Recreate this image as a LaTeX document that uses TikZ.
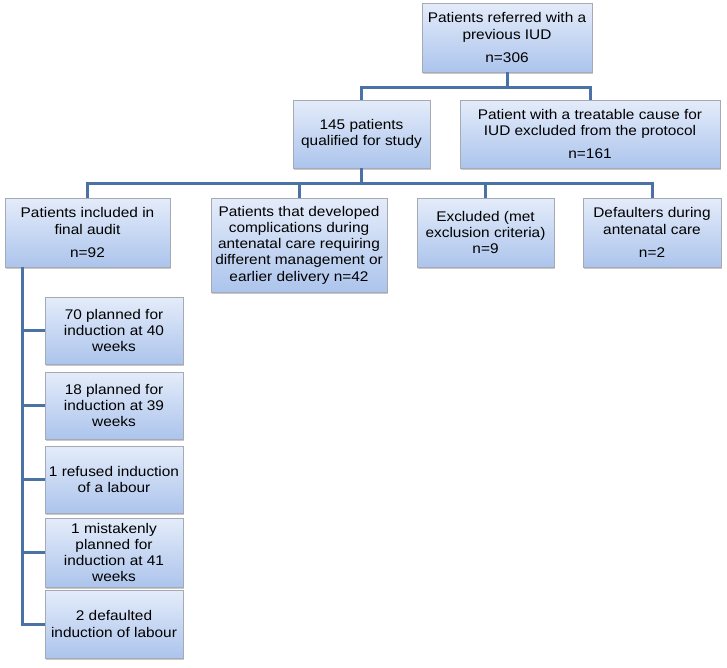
\documentclass[tikz,border=0pt]{standalone}
\usepackage{fontspec}
\setmainfont[FakeStretch=1.1]{Liberation Sans}
\usetikzlibrary{shadows}
\definecolor{linec}{RGB}{74,114,164}
\definecolor{boxtop}{RGB}{228,236,250}
\definecolor{boxbot}{RGB}{172,196,236}
\definecolor{boxedge}{RGB}{165,170,180}
\tikzset{
  box/.style={draw=boxedge, line width=0.8pt, top color=boxtop, bottom color=boxbot,
    drop shadow={shadow xshift=0.6pt, shadow yshift=-2pt, opacity=0.35, fill=black!60},
    align=center, inner sep=0pt, font=\fontsize{14}{16.3}\selectfont},
  conn/.style={draw=linec, line width=3pt}
}
\begin{document}
\begin{tikzpicture}[x=1pt,y=-1pt]
\useasboundingbox (0,0) rectangle (727,667);
\fill[white] (0,0) rectangle (727,667);
\node[box, minimum width=170, minimum height=69] (top) at (507,37.5) {Patients referred with a\\previous IUD\\[7pt]n=306};
\node[box, minimum width=137, minimum height=68] (q145) at (361.5,134) {145 patients\\qualified for study};
\node[box, minimum width=260, minimum height=68] (treat) at (590,134) {Patient with a treatable cause for\\IUD excluded from the protocol\\[7pt]n=161};
\node[box, minimum width=165, minimum height=69] (audit) at (87.5,232.5) {Patients included in\\final audit\\[7pt]n=92};
\node[box, minimum width=176, minimum height=94] (compl) at (299,245) {Patients that developed\\complications during\\antenatal care requiring\\different management or\\earlier delivery n=42};
\node[box, minimum width=137, minimum height=69] (excl) at (485.5,232.5) {Excluded (met\\exclusion criteria)\\n=9};
\node[box, minimum width=138, minimum height=69] (def) at (652,232.5) {Defaulters during\\antenatal care\\[7pt]n=2};
\node[box, minimum width=138, minimum height=67] (ca) at (114,330.5) {70 planned for\\induction at 40\\weeks};
\node[box, minimum width=138, minimum height=67] (cb) at (114,405.5) {18 planned for\\induction at 39\\weeks};
\node[box, minimum width=138, minimum height=67] (cc) at (114,479.5) {1 refused induction\\of a labour};
\node[box, minimum width=138, minimum height=69] (cd) at (114,552.5) {1 mistakenly\\planned for\\induction at 41\\weeks};
\node[box, minimum width=138, minimum height=68] (ce) at (114,624) {2 defaulted\\induction of labour};
\coordinate (j1) at (507,87);
\coordinate (j2) at (361.5,183);
\coordinate (sp) at (22,267);
\draw[conn] (top.south) -- (j1) -| (q145.north);
\draw[conn] (j1) -| (treat.north);
\draw[conn] (q145.south) -- (j2) -| (audit.north);
\draw[conn] (j2) -| (compl.north);
\draw[conn] (j2) -| (excl.north);
\draw[conn] (j2) -| (def.north);
\draw[conn] (sp) |- (ca.west);
\draw[conn] (sp) |- (cb.west);
\draw[conn] (sp) |- (cc.west);
\draw[conn] (sp) |- (cd.west);
\draw[conn] (sp) |- (ce.west);
\end{tikzpicture}
\end{document}
